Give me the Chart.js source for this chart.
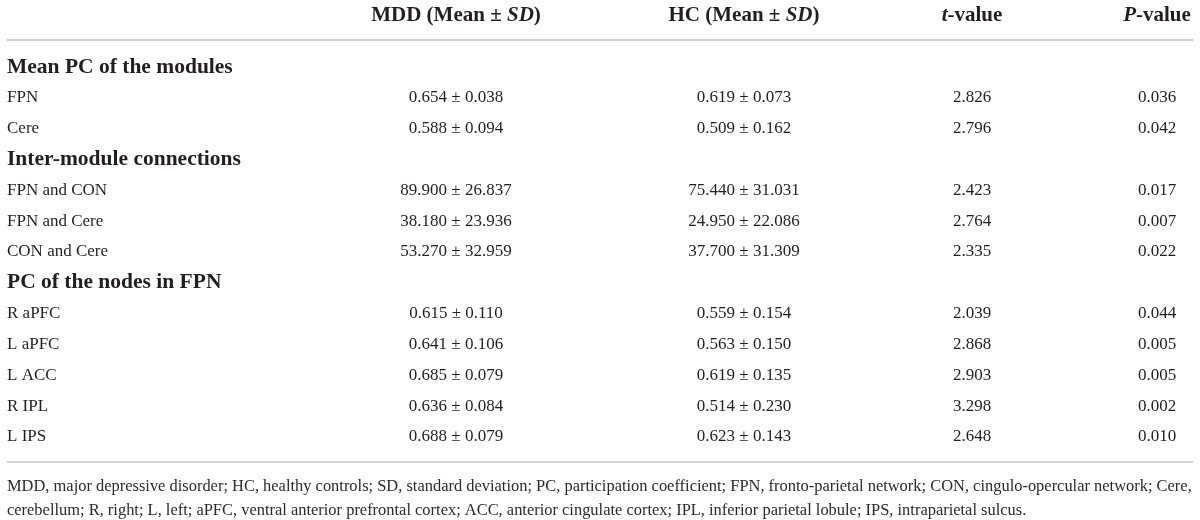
<!DOCTYPE html>
<html>
<head>
<meta charset="utf-8">
<script src="https://cdn.jsdelivr.net/npm/chart.js@4/dist/chart.umd.min.js"></script>
<style>
  html, body { margin: 0; padding: 0; background: #fff; }
  #wrap { width: 1200px; height: 520px; position: relative; }
</style>
</head>
<body>
<div id="wrap"><canvas id="statsTable"></canvas></div>
<script>
// table rows (section headings have no values)
const rowLabels = [
    'Mean PC of the modules', 'FPN', 'Cere',
    'Inter-module connections', 'FPN and CON', 'FPN and Cere', 'CON and Cere',
    'PC of the nodes in FPN', 'R aPFC', 'L aPFC', 'L ACC', 'R IPL', 'L IPS'
];
const mddMean = [null, 0.654, 0.588, null, 89.900, 38.180, 53.270, null, 0.615, 0.641, 0.685, 0.636, 0.688];
const mddSd   = [null, 0.038, 0.094, null, 26.837, 23.936, 32.959, null, 0.110, 0.106, 0.079, 0.084, 0.079];
const hcMean  = [null, 0.619, 0.509, null, 75.440, 24.950, 37.700, null, 0.559, 0.563, 0.619, 0.514, 0.623];
const hcSd    = [null, 0.073, 0.162, null, 31.031, 22.086, 31.309, null, 0.154, 0.150, 0.135, 0.230, 0.143];
const tValues = [null, 2.826, 2.796, null, 2.423, 2.764, 2.335, null, 2.039, 2.868, 2.903, 3.298, 2.648];
const pValues = [null, 0.036, 0.042, null, 0.017, 0.007, 0.022, null, 0.044, 0.005, 0.005, 0.002, 0.010];

// column headers: [text, italic] pieces
const headers = [
    [['MDD (Mean \u00b1 ', false], ['SD', true], [')', false]],
    [['HC (Mean \u00b1 ', false], ['SD', true], [')', false]],
    [['t', true], ['-value', false]],
    [['P', true], ['-value', false]]
];
const footnote = [
    'MDD, major depressive disorder; HC, healthy controls; SD, standard deviation; PC, participation coefficient; FPN, fronto-parietal network; CON, cingulo-opercular network; Cere,',
    'cerebellum; R, right; L, left; aPFC, ventral anterior prefrontal cortex; ACC, anterior cingulate cortex; IPL, inferior parietal lobule; IPS, intraparietal sulcus.'
];

/* ========================= */
/* layout / style */
/* ========================= */
const serif = '"Liberation Serif", "Times New Roman", serif';
const ink = '#231f20';
const rule = '#d2d2d2';
const colX = [456, 744, 972, 1157];   // column centres on the x scale
const labelX = 7;

function richText(ctx, parts, cx, y, size) {
    let w = 0;
    parts.forEach(p => {
        ctx.font = (p[1] ? 'italic ' : '') + 'bold ' + size + 'px ' + serif;
        w += ctx.measureText(p[0]).width;
    });
    let x = cx - w / 2;
    ctx.textAlign = 'left';
    parts.forEach(p => {
        ctx.font = (p[1] ? 'italic ' : '') + 'bold ' + size + 'px ' + serif;
        ctx.fillText(p[0], x, y);
        x += ctx.measureText(p[0]).width;
    });
}

const tablePlugin = {
    id: 'tablePlugin',
    afterDraw(chart) {
        const ctx = chart.ctx;
        const xs = chart.scales.x;
        const ys = chart.scales.y;
        const area = chart.chartArea;
        ctx.save();
        ctx.fillStyle = ink;
        ctx.textBaseline = 'middle';

        // header row
        headers.forEach((h, i) => richText(ctx, h, xs.getPixelForValue(colX[i]), area.top - 36, 21));

        // rules
        ctx.strokeStyle = rule;
        ctx.lineWidth = 2;
        [area.top - 11.5, area.bottom + 9.5].forEach(y => {
            ctx.beginPath();
            ctx.moveTo(7, y);
            ctx.lineTo(1193, y);
            ctx.stroke();
        });

        // body rows
        rowLabels.forEach((label, i) => {
            const y = ys.getPixelForValue(i);
            ctx.textAlign = 'left';
            if (mddMean[i] === null) {
                ctx.font = 'bold 21.5px ' + serif;
                ctx.fillText(label, labelX, y);
                return;
            }
            ctx.font = '17px ' + serif;
            ctx.fillText(label, labelX, y);
            ctx.textAlign = 'center';
            const cells = [
                mddMean[i].toFixed(3) + ' \u00b1 ' + mddSd[i].toFixed(3),
                hcMean[i].toFixed(3) + ' \u00b1 ' + hcSd[i].toFixed(3),
                tValues[i].toFixed(3),
                pValues[i].toFixed(3)
            ];
            cells.forEach((c, k) => ctx.fillText(c, xs.getPixelForValue(colX[k]), y));
        });

        // footnote, sized so the first line fills the width
        ctx.font = '16px ' + serif;
        const fs = 16 * 1186 / ctx.measureText(footnote[0]).width;
        ctx.font = fs.toFixed(2) + 'px ' + serif;
        ctx.textAlign = 'left';
        ctx.fillStyle = '#2b2b2b';
        ctx.fillText(footnote[0], labelX, area.bottom + 34);
        ctx.fillText(footnote[1], labelX, area.bottom + 58);
        ctx.restore();
    }
};

new Chart(document.getElementById('statsTable'), {
    type: 'bar',
    data: {
        labels: rowLabels,
        datasets: []
    },
    options: {
        responsive: true,
        maintainAspectRatio: false,
        animation: false,
        layout: { padding: { top: 51.6, bottom: 67.6, left: 0, right: 0 } },
        scales: {
            x: { type: 'linear', min: 0, max: 1200, offset: false, display: false },
            y: { type: 'category', labels: rowLabels, offset: true, display: false }
        },
        plugins: {
            legend: { display: false },
            tooltip: { enabled: false }
        }
    },
    plugins: [tablePlugin]
});
</script>
</body>
</html>
